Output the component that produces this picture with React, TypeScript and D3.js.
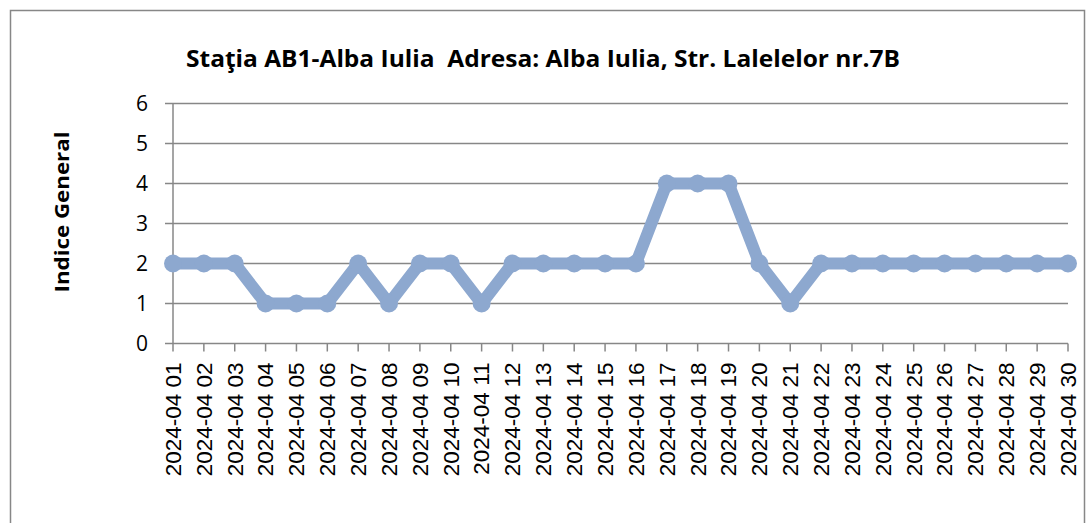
import * as d3 from "d3";

const dates = d3.range(1, 31).map((d) => `2024-04 ${String(d).padStart(2, "0")}`);
const values = [2, 2, 2, 1, 1, 1, 2, 1, 2, 2, 1, 2, 2, 2, 2, 2, 4, 4, 4, 2, 1, 2, 2, 2, 2, 2, 2, 2, 2, 2];
const yTickValues = [0, 1, 2, 3, 4, 5, 6];
const title = "Staţia AB1-Alba Iulia  Adresa: Alba Iulia, Str. Lalelelor nr.7B";
const yLabel = "Indice General";

export default function App() {
  const width = 1088;
  const height = 523;
  const left = 173;
  const right = 1068;
  const top = 103.5;
  const bottom = 343.5;

  const x = d3.scalePoint<string>().domain(dates).range([left, right]).padding(0);
  const y = d3.scaleLinear().domain([0, 6]).range([bottom, top]);

  const line = d3
    .line<number>()
    .x((_, i) => x(dates[i]) as number)
    .y((d) => y(d));

  const gray = "#878787";
  const blue = "#8DA8CF";

  return (
    <svg
      width={width}
      height={height}
      style={{ position: "absolute", left: 0, top: 0, background: "#fff" }}
    >
      {/* chart border */}
      <rect x={10.5} y={10.5} width={1074} height={530} fill="none" stroke={gray} strokeWidth={1.5} />

      <text
        x={543}
        y={67}
        textAnchor="middle"
        fontFamily="'Open Sans', sans-serif"
        fontWeight="bold"
        fontSize={24}
        textLength={714}
        lengthAdjust="spacingAndGlyphs"
        style={{ whiteSpace: "pre" }}
      >
        {title}
      </text>

      {/* gridlines */}
      {yTickValues.slice(1).map((t) => (
        <line key={t} x1={left - 8} x2={right} y1={y(t)} y2={y(t)} stroke={gray} strokeWidth={1.5} />
      ))}

      {/* y axis */}
      <line x1={left} x2={left} y1={top} y2={bottom} stroke={gray} strokeWidth={1.5} />
      {yTickValues.map((t) => (
        <text
          key={t}
          x={148}
          y={y(t)}
          dy="0.36em"
          textAnchor="end"
          fontFamily="'Open Sans', sans-serif"
          fontSize={21}
        >
          {t}
        </text>
      ))}
      <text
        transform={`translate(69,212) rotate(-90)`}
        textAnchor="middle"
        fontFamily="'Open Sans', sans-serif"
        fontWeight="bold"
        fontSize={20}
        textLength={161}
        lengthAdjust="spacingAndGlyphs"
      >
        {yLabel}
      </text>

      {/* x axis */}
      <line x1={left - 8} x2={right} y1={bottom} y2={bottom} stroke={gray} strokeWidth={1.5} />
      {dates.map((d) => (
        <g key={d} transform={`translate(${x(d)},${bottom})`}>
          <line y2={8} stroke={gray} strokeWidth={1.5} />
          <text
            transform="translate(0,19) rotate(-90)"
            dy="0.35em"
            textAnchor="end"
            fontFamily="'Liberation Sans', Arial, sans-serif"
            fontSize={22.5}
          >
            {d}
          </text>
        </g>
      ))}

      {/* series */}
      <path d={line(values) ?? ""} fill="none" stroke={blue} strokeWidth={12} strokeLinejoin="round" />
      {values.map((v, i) => (
        <circle key={i} cx={x(dates[i])} cy={y(v)} r={9} fill={blue} />
      ))}
    </svg>
  );
}
